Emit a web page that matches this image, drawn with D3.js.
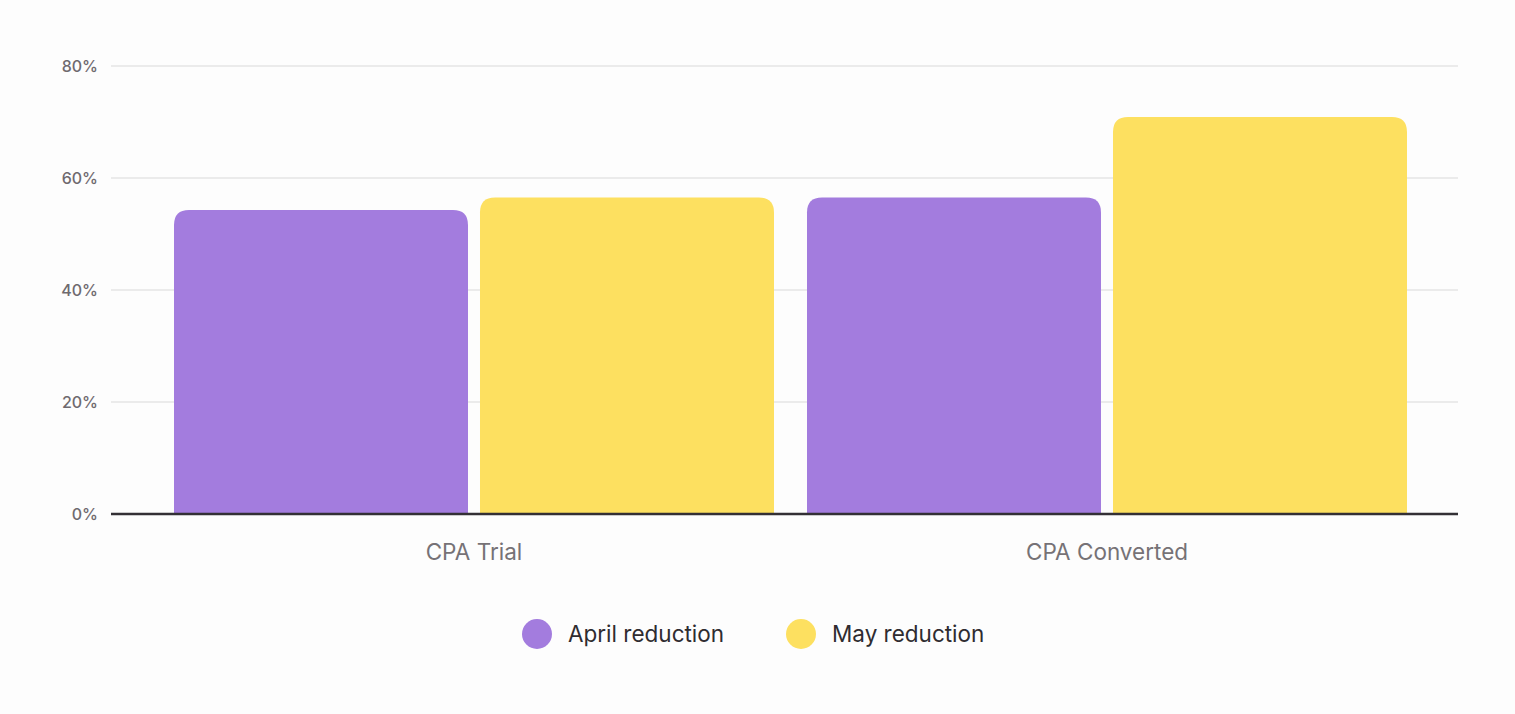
<!DOCTYPE html>
<html><head><meta charset="utf-8">
<script src="https://cdn.jsdelivr.net/npm/d3@7"></script>
<style>html,body{margin:0;padding:0;background:#fdfdfd;}svg{display:block;font-family:Inter,"Open Sans",sans-serif;}</style>
</head><body>
<svg id="c" width="1515" height="714"></svg>
<script>
const categories = ["CPA Trial", "CPA Converted"];
const seriesNames = ["April reduction", "May reduction"];
const aprilValues = [54.3, 56.5];
const mayValues = [56.5, 70.9];
const yTicks = [0, 20, 40, 60, 80];
const colors = ["#a37cde", "#fde060"];

const svg = d3.select("#c");
const plotLeft = 111, plotRight = 1458, yTop = 66, yBottom = 514;
const y = d3.scaleLinear().domain([0, 80]).range([yBottom, yTop]);
const x0 = d3.scaleBand().domain(categories).range([157.5, 1423.5]).paddingInner(0).paddingOuter(0);
const x1 = d3.scaleBand().domain(seriesNames).range([16.5, x0.bandwidth() - 16.5]).paddingInner(0.0392);

// grid
svg.append("g").selectAll("line").data(yTicks.filter(d => d > 0)).join("line")
  .attr("x1", plotLeft).attr("x2", plotRight)
  .attr("y1", d => y(d)).attr("y2", d => y(d))
  .attr("stroke", "#d9d9d9").attr("stroke-width", 1);

// y labels
svg.append("g").selectAll("text").data(yTicks).join("text")
  .attr("x", 98).attr("y", d => y(d)).attr("dy", "0.35em")
  .attr("text-anchor", "end").attr("fill", "#6f6a6f").attr("font-size", 16).attr("font-weight", 500)
  .text(d => d + "%");

const data = categories.map((c, i) => ({cat: c, vals: [aprilValues[i], mayValues[i]]}));
function topRounded(x, yv, w, h, r) {
  r = Math.min(r, h, w / 2);
  return `M${x},${yv + h}V${yv + r}Q${x},${yv} ${x + r},${yv}H${x + w - r}Q${x + w},${yv} ${x + w},${yv + r}V${yv + h}Z`;
}
const g = svg.append("g").selectAll("g").data(data).join("g")
  .attr("transform", d => `translate(${x0(d.cat)},0)`);
g.selectAll("path").data(d => d.vals.map((v, i) => ({s: seriesNames[i], v, i}))).join("path")
  .attr("fill", d => colors[d.i])
  .attr("d", d => topRounded(x1(d.s), y(d.v), x1.bandwidth(), y(0) - y(d.v), 15));

// baseline
svg.append("line").attr("x1", plotLeft).attr("x2", plotRight).attr("y1", yBottom).attr("y2", yBottom)
  .attr("stroke", "#333035").attr("stroke-width", 2.5);

// category labels
svg.append("g").selectAll("text").data(categories).join("text")
  .attr("x", d => x0(d) + x0.bandwidth() / 2).attr("y", 560)
  .attr("text-anchor", "middle").attr("fill", "#767276").attr("font-size", 22.5)
  .text(d => d);

// legend
const legX = [537, 801];
const lg = svg.append("g").selectAll("g").data(seriesNames).join("g")
  .attr("transform", (d, i) => `translate(${legX[i]},634)`);
lg.append("circle").attr("r", 15).attr("fill", (d, i) => colors[i]);
lg.append("text").attr("x", 31).attr("dy", "0.35em").attr("font-size", 22.5).attr("fill", "#2f2c30").text(d => d);
</script>
</body></html>
